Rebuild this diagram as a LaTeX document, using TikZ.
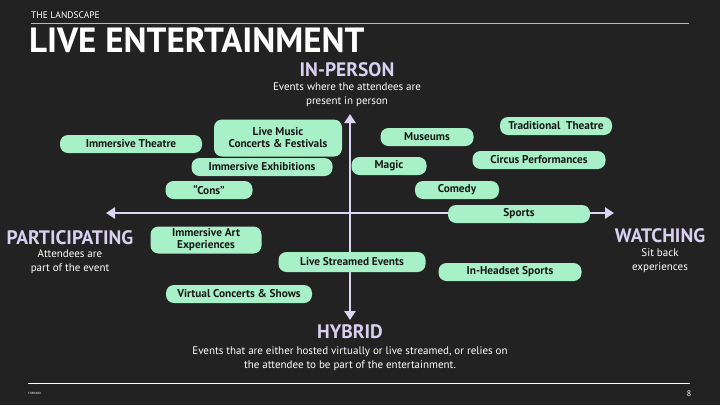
\documentclass[tikz,border=0pt]{standalone}
\usepackage{fontspec}
\setmainfont{PT Sans}
\usetikzlibrary{arrows.meta}
\definecolor{bg}{HTML}{222222}
\definecolor{pill}{HTML}{A8F0C8}
\definecolor{axis}{HTML}{DCD4F4}
\definecolor{head}{HTML}{D8D0F0}
\tikzset{
  pillbox/.style={fill=pill,rounded corners=8pt,inner sep=0pt,align=center,text=black!90,font=\bfseries\fontsize{11.3}{12}\selectfont},
  axlabel/.style={text=head,inner sep=1pt,font=\bfseries\fontsize{19.5}{20}\selectfont},
  sub/.style={text=white,align=center,inner sep=1pt,font=\fontsize{11}{14}\selectfont},
  axline/.style={draw=axis,line width=2.4pt,-{Triangle[length=9pt,width=11pt]}}
}
\begin{document}
\begin{tikzpicture}[x=1pt,y=-1pt]
\fill[bg] (0,0) rectangle (720,405);
\useasboundingbox (0,0) rectangle (720,405);
\node[anchor=west,text=white,font=\fontsize{9.5}{10}\selectfont,inner sep=0] (tl) at (31,15) {THE LANDSCAPE};
\draw[color=white!70!green!60!gray,line width=0.6pt] (31,23) -- (689,23);
\node[anchor=west,text=white,font=\bfseries\fontsize{35}{36}\selectfont,inner sep=0] (title) at (29,40) {LIVE ENTERTAINMENT};
\draw[white!85,line width=0.6pt] (28,383) -- (690,383);
\node[anchor=west,text=white!60,font=\fontsize{3}{3}\selectfont,inner sep=0] (fw) at (28,393) {FORWARD};
\node[text=white,font=\fontsize{8}{8}\selectfont,inner sep=0] (pg) at (689,394) {8};
% axes
\coordinate (c) at (350,213);
\coordinate (top) at (350,114);
\coordinate (bot) at (350,320);
\coordinate (lft) at (106,213);
\coordinate (rgt) at (614,213);
\draw[axline] (c) -- (top);
\draw[axline] (c) -- (bot);
\draw[axline] (c) -- (lft);
\draw[axline] (c) -- (rgt);
% axis labels
\node[axlabel] (ip) at (347,70) {IN-PERSON};
\node[sub] (ips) at (347,94.5) {Events where the attendees are\\ present in person};
\node[axlabel] (hy) at (350,332) {HYBRID};
\node[sub] (hys) at (350,359) {Events that are either hosted virtually or live streamed, or relies on\\ the attendee to be part of the entertainment.};
\node[axlabel] (pa) at (70,238) {PARTICIPATING};
\node[sub] (pas) at (70,262) {Attendees are\\ part of the event};
\node[axlabel] (wa) at (660,236) {WATCHING};
\node[sub] (was) at (660,261) {Sit back\\ experiences};
% pills
\node[pillbox,minimum width=142pt,minimum height=18pt] (p1) at (131,144) {Immersive Theatre};
\node[pillbox,minimum width=128pt,minimum height=37pt] (p2) at (278,138) {Live Music\\ Concerts \& Festivals};
\node[pillbox,minimum width=93pt,minimum height=18pt] (p3) at (427,137) {Museums};
\node[pillbox,minimum width=112pt,minimum height=18pt] (p4) at (556,126) {Traditional\ \ Theatre};
\node[pillbox,minimum width=141pt,minimum height=18pt] (p5) at (262,167) {Immersive Exhibitions};
\node[pillbox,minimum width=75pt,minimum height=18pt] (p6) at (389,166) {Magic};
\node[pillbox,minimum width=133pt,minimum height=18pt] (p7) at (539,160) {Circus Performances};
\node[pillbox,minimum width=87pt,minimum height=18pt] (p8) at (209,190) {“Cons”};
\node[pillbox,minimum width=84pt,minimum height=18pt] (p9) at (457,190) {Comedy};
\node[pillbox,minimum width=142pt,minimum height=18pt] (p10) at (519,214) {Sports};
\node[pillbox,minimum width=111pt,minimum height=27pt] (p11) at (206,240) {Immersive Art\\ Experiences};
\node[pillbox,minimum width=147pt,minimum height=20pt] (p12) at (352,262) {Live Streamed Events};
\node[pillbox,minimum width=143pt,minimum height=18pt] (p13) at (510,272) {In-Headset Sports};
\node[pillbox,minimum width=146pt,minimum height=18pt] (p14) at (239,294) {Virtual Concerts \& Shows};
\end{tikzpicture}
\end{document}
